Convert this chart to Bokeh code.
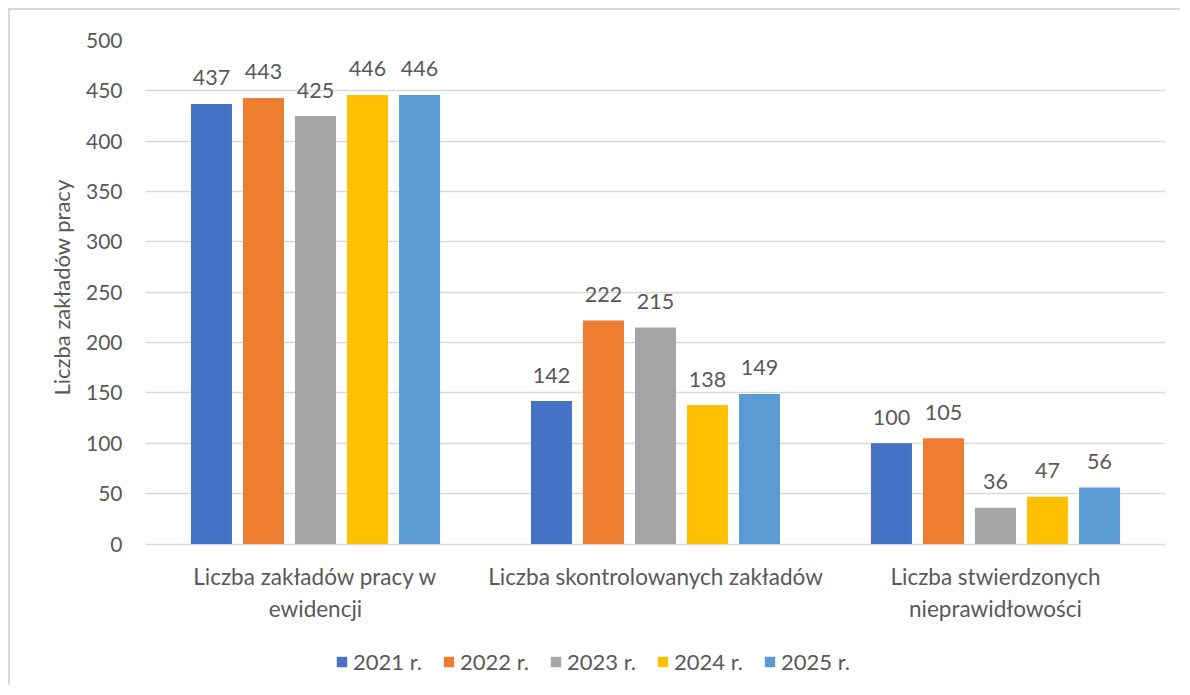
from bokeh.plotting import figure
from bokeh.models import ColumnDataSource, Legend, LegendItem, FixedTicker, Range1d, Title
from bokeh.core.properties import value
from bokeh.embed import file_html
from bokeh.resources import INLINE

categories = ["Liczba zakładów pracy w\newidencji", "Liczba skontrolowanych zakładów", "Liczba stwierdzonych\nnieprawidłowości"]
years = ["2021 r.", "2022 r.", "2023 r.", "2024 r.", "2025 r."]
colors = ["#4472C4", "#ED7D31", "#A5A5A5", "#FFC000", "#5B9BD5"]
v2021 = [437, 142, 100]
v2022 = [443, 222, 105]
v2023 = [425, 215, 36]
v2024 = [446, 138, 47]
v2025 = [446, 149, 56]
series = [v2021, v2022, v2023, v2024, v2025]
y_ticks = [0, 50, 100, 150, 200, 250, 300, 350, 400, 450, 500]
y_title = "Liczba zakładów pracy"

FONT = "Lato"
TXT = "#595959"

# layout (canvas pixels): frame runs from the top margin down to the canvas bottom,
# the value axis 0..500 occupies the upper part, labels + legend sit below zero
W, H = 1172, 677
TOP, ZERO_PX = 30, 533.5
ppu = (ZERO_PX - TOP) / 500.0
y_start = -(H - ZERO_PX) / ppu

p = figure(width=W, height=H, output_backend="svg", toolbar_location=None,
           x_range=Range1d(0, 3), y_range=Range1d(y_start, 500),
           min_border_left=135, min_border_right=17, min_border_top=TOP, min_border_bottom=0)
p.styles = {"border-left": "2px solid #d9d9d9", "border-top": "2px solid #d9d9d9",
            "margin-left": "8px", "margin-top": "8px"}
p.outline_line_color = None
p.background_fill_color = "white"

step = 0.153
bw = 0.1206
items = []
for j, (vals, col, yr) in enumerate(zip(series, colors, years)):
    xs = [i + 0.5 + (j - 2) * step for i in range(len(categories))]
    src = ColumnDataSource(dict(x=xs, top=vals, lab=[str(v) for v in vals]))
    r = p.vbar(x="x", top="top", width=bw, source=src, fill_color=col, line_color=None)
    p.text(x="x", y="top", text="lab", source=src, text_align="center", text_baseline="alphabetic",
           y_offset=-26, text_font=value(FONT), text_font_size="21.5px", text_color=TXT)
    items.append(LegendItem(label=yr, renderers=[r]))

# category labels under the zero line
cat_src = ColumnDataSource(dict(x=[i + 0.5 for i in range(len(categories))], y=[0] * len(categories), t=categories))
p.text(x="x", y="y", text="t", source=cat_src, text_align="center", text_baseline="top",
       y_offset=19, text_font=value(FONT), text_font_size="22.5px", text_color=TXT, text_line_height=1.2)

p.xaxis.visible = False
p.xgrid.grid_line_color = None

p.yaxis.ticker = FixedTicker(ticks=y_ticks)
p.yaxis.axis_line_color = None
p.yaxis.major_tick_line_color = None
p.yaxis.minor_tick_line_color = None
p.yaxis.major_tick_out = 0
p.yaxis.major_tick_in = 0
p.yaxis.major_label_text_font = FONT
p.yaxis.major_label_text_font_size = "21px"
p.yaxis.major_label_text_color = TXT
p.yaxis.major_label_standoff = 23
p.ygrid.grid_line_color = "#d9d9d9"
p.ygrid.grid_line_width = 1.5

ttl = Title(text=y_title, align="left", offset=292, standoff=16, text_font=FONT, text_font_size="22px",
            text_font_style="normal", text_color=TXT)
p.add_layout(ttl, "left")

legend = Legend(items=items, orientation="horizontal", location=(190, 12),
                glyph_width=13, glyph_height=13, label_text_font=FONT, label_text_font_size="22px",
                label_text_color=TXT, spacing=20, label_standoff=5, padding=0, margin=0,
                border_line_color=None, background_fill_alpha=0)
p.add_layout(legend, "center")

open("out.html", "w").write(file_html(p, INLINE))
